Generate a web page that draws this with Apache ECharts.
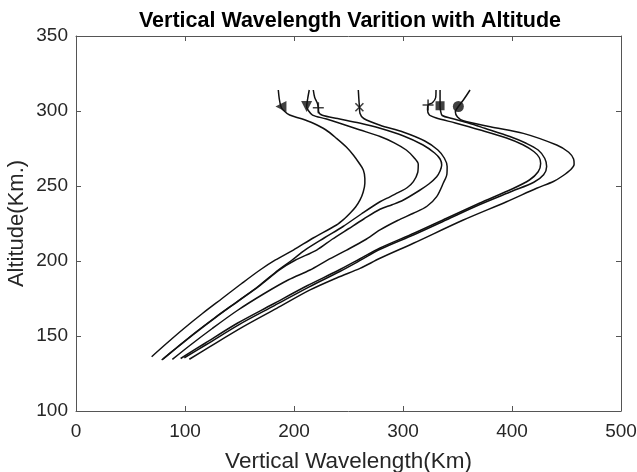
<!DOCTYPE html>
<html>
<head>
<meta charset="utf-8">
<script src="https://cdn.jsdelivr.net/npm/echarts@6/dist/echarts.min.js"></script>
<style>html,body{margin:0;padding:0;background:#fff;}#chart{width:637px;height:472px;}</style>
</head>
<body>
<div id="chart"></div>
<script>
// Axis ticks
const xTicks = [0, 100, 200, 300, 400, 500];
const yTicks = [100, 150, 200, 250, 300, 350];

// Curves: [vertical wavelength (Km), altitude (Km)]
const curveLeftTri = [[185.6,314],[186.5,308],[188,303],[190,300.7],[196,297.3],[207,294.8],[217.7,291.8],[229,287.5],[239,281.8],[248,276],[254.4,270.7],[260,265],[263.6,260.7],[265,255],[265,251.8],[263.5,246],[260.6,240.7],[256.5,236],[251.4,231.8],[246,228],[239,224],[218,215.5],[199.4,207.3],[183,200.7],[168.8,194],[152,185],[134,175],[116,165],[99,155],[83,145],[69.4,136.2]];
const curveDownTri = [[214,314],[212.5,308],[211.6,303],[213,300.5],[217,297.3],[229,294.8],[242,291.8],[260,287.5],[279,283],[292,278.8],[303,274],[310,269],[314,264.5],[313.5,259],[309.5,252.9],[304,249],[297.2,246.2],[288,242.8],[278.9,239.5],[262,231.5],[245,223],[228,215.5],[210,207.3],[198,200.5],[185.6,194],[167,183],[147,172.5],[127,162],[108,151.5],[92,142],[78.6,134]];
const curvePlusLeft = [[217.7,314],[219,309],[221.5,305],[222.3,302.2],[222.5,299.5],[226,297.2],[240,295],[260,292],[279,288.5],[300,283.5],[318,277.5],[329,272],[334,268],[335.5,264],[334,260],[330.9,256.2],[324,251.5],[315,247],[300,240.5],[290,237.5],[278.9,234.5],[264,228],[250,221.5],[235,214.5],[220.8,207.3],[201,200.5],[187,194.3],[168,183.3],[148,172.8],[128,162.3],[109,151.8],[93,142.5],[79.8,134.6]];
const curveCross = [[259,314],[259.5,308],[260,303],[260.5,298.5],[264,295],[279,290.5],[300,286],[320,280],[332,274],[338,268.5],[340.5,263],[340.3,258],[337,252],[330.9,242.9],[322,236.5],[309.5,231.8],[295,227],[278.9,220.7],[265,214],[248.3,207.3],[231,200.7],[214.7,194],[195,187.5],[172,178],[148,167],[125,155],[105,144],[88.4,134.4]];
const curvePlusRight = [[330.3,314],[330,309],[327,305.5],[323,304],[322.5,301],[324,297.5],[330,295.5],[348,292],[370,287.5],[395,282],[410,277.5],[420,273],[425,269],[426.3,265],[424,259.5],[416,254],[400,248],[370,238.5],[340,228.5],[310,218.5],[279,208.7],[260.6,201.5],[240,193.5],[212,183.5],[180,171],[148,158.5],[118,145],[96,135]];
const curveSquare = [[334,314],[334,309],[334,303.5],[334.5,300],[336,297],[345,295],[360,292],[375,288.5],[398,283],[413,278.5],[424,274],[430,268.5],[431.8,263],[429,257.5],[420,252.5],[400,246.5],[370,237.5],[340,227.5],[310,217.5],[279,207.8],[261.5,200.7],[242,193],[214,182.8],[182,170.3],[150,157.8],[120,144.5],[99.4,135.5]];
const curveCircle = [[361.5,314],[356,308],[350.8,303],[348,299.5],[350,296],[355.3,293.5],[380,289.5],[410.4,285.1],[441,277.3],[452,272.5],[456.5,268],[457,264.5],[454,261],[446,256.5],[438,253],[422.6,248.5],[395,239.5],[355.3,227.3],[309.5,211.8],[278.9,201.8],[260.6,195.1],[240,189],[214.7,180.7],[184.1,168.4],[153.5,156.2],[122.9,142.9],[104,134.5]];

// Marker points
const markLeftTri = [[188,303]];
const markDownTri = [[211.6,303]];
const markPlusLeft = [[222.3,302.2]];
const markCross = [[260,302.5]];
const markPlusRight = [[323,304]];
const markSquare = [[334,303.5]];
const markCircle = [[350.8,303]];

const FONT = 'Liberation Sans, Arial, Helvetica, sans-serif';
const AX = '#555555';
const TXT = '#262626';

const chart = echarts.init(document.getElementById('chart'));

function lineSeries(data) {
  return { type: 'line', data: data, symbol: 'none', smooth: 0.3, xAxisIndex: 0, yAxisIndex: 0,
    lineStyle: { color: '#111', width: 1.5 }, z: 2, silent: true, animation: false };
}
function markSeries(data, symbol, size, rotate, stroke) {
  return { type: 'scatter', data: data, symbol: symbol, symbolSize: size, symbolRotate: rotate || 0,
    xAxisIndex: 0, yAxisIndex: 0, z: 3, silent: true, animation: false,
    itemStyle: stroke ? { color: 'none', borderColor: '#111', borderWidth: 1.6 } : { color: '#111' } };
}

const plusPath = 'path://M5,0L5,10M0,5L10,5';
const crossPath = 'path://M0,0L10,10M10,0L0,10';

const xCommon = { type: 'value', min: xTicks[0], max: xTicks[xTicks.length-1], interval: 100,
  axisLine: { show: true, onZero: false, lineStyle: { color: AX, width: 1 } },
  axisTick: { show: true, inside: true, length: 5, lineStyle: { color: AX } },
  splitLine: { show: false } };
const yCommon = { type: 'value', min: yTicks[0], max: yTicks[yTicks.length-1], interval: 50,
  axisLine: { show: true, onZero: false, lineStyle: { color: AX, width: 1 } },
  axisTick: { show: true, inside: true, length: 5, lineStyle: { color: AX } },
  splitLine: { show: false } };

chart.setOption({
  animation: false,
  backgroundColor: '#fff',
  title: { text: 'Vertical Wavelength Varition with Altitude', left: 345, top: 5, textAlign: 'center',
    textStyle: { fontFamily: FONT, fontSize: 21.5, fontWeight: 'bold', color: '#000' } },
  grid: { left: 76, right: 16, top: 36, bottom: 61, containLabel: false, outerBoundsMode: 'none' },
  xAxis: [
    Object.assign({}, xCommon, { position: 'bottom',
      axisLabel: { show: true, fontFamily: FONT, fontSize: 19, color: TXT, margin: 11 },
      name: 'Vertical Wavelength(Km)', nameLocation: 'middle', nameGap: 39, nameMoveOverlap: false,
      nameTextStyle: { fontFamily: FONT, fontSize: 22.5, color: TXT } }),
    Object.assign({}, xCommon, { position: 'top', axisLabel: { show: false } })
  ],
  yAxis: [
    Object.assign({}, yCommon, { position: 'left',
      axisLabel: { show: true, fontFamily: FONT, fontSize: 19, color: TXT, margin: 8 },
      name: 'Altitude(Km.)', nameLocation: 'middle', nameGap: 48, nameMoveOverlap: false,
      nameTextStyle: { fontFamily: FONT, fontSize: 22, color: TXT } }),
    Object.assign({}, yCommon, { position: 'right', axisLabel: { show: false } })
  ],
  series: [
    lineSeries(curveLeftTri),
    lineSeries(curveDownTri),
    lineSeries(curvePlusLeft),
    lineSeries(curveCross),
    lineSeries(curvePlusRight),
    lineSeries(curveSquare),
    lineSeries(curveCircle),
    markSeries(markLeftTri, 'triangle', 11, 90, false),
    markSeries(markDownTri, 'triangle', 11, 180, false),
    markSeries(markPlusLeft, plusPath, 11, 0, true),
    markSeries(markCross, crossPath, 8, 0, true),
    markSeries(markPlusRight, plusPath, 11, 0, true),
    markSeries(markSquare, 'rect', 9, 0, false),
    markSeries(markCircle, 'circle', 11, 0, false)
  ]
});
</script>
</body>
</html>
